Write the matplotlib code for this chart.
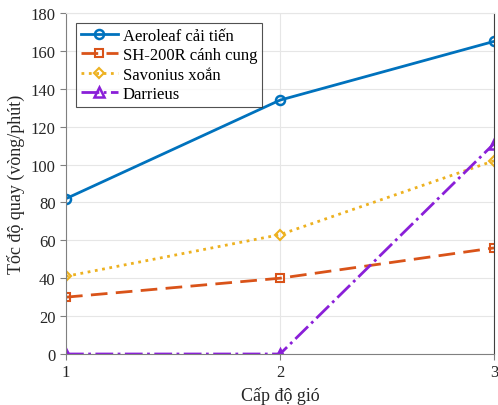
import numpy as np
import matplotlib
matplotlib.use('Agg')
from matplotlib import pyplot as plt

plt.rcParams['font.family'] = ['Liberation Serif', 'DejaVu Serif']

# Du lieu
cap_do = [1, 2, 3]
aeroleaf = [82, 134, 165]
sh200r = [30, 40, 56]
savonius = [41, 63, 102]
darrieus = [0, 0, 111]

fig = plt.figure(figsize=(4.98, 4.06), dpi=100)
ax = fig.add_axes([0.1325, 0.1256, 0.8595, 0.84])

ax.plot(cap_do, aeroleaf, '-o', color='#0072BD', lw=2, ms=6.5, mfc='none', mew=1.8,
        label='Aeroleaf cải tiến')
ax.plot(cap_do, sh200r, '--s', color='#D95319', lw=2, ms=5.5, mfc='none', mew=1.5,
        dashes=(6, 3), label='SH-200R cánh cung')
ax.plot(cap_do, savonius, ':D', color='#EDB120', lw=2, ms=5.5, mfc='none', mew=1.5,
        label='Savonius xoắn')
ax.plot(cap_do, darrieus, '-.^', color='#8A1FD8', lw=2, ms=7, mfc='none', mew=1.8,
        label='Darrieus')

ax.set_xlim(1, 3)
ax.set_ylim(0, 180)
ax.set_xticks([1, 2, 3])
ax.set_yticks(np.arange(0, 181, 20))
ax.grid(True, color='#e6e6e6', lw=0.8)
ax.set_axisbelow(True)
for s in ['left', 'bottom']:
    ax.spines[s].set_color('#808080')
ax.spines['top'].set_color('#e6e6e6')
ax.spines['right'].set_color('#404040')
ax.tick_params(labelsize=12, colors='#808080', labelcolor='#262626', direction='out', length=4)
ax.set_xlabel('Cấp độ gió', fontsize=13, color='#262626')
ax.set_ylabel('Tốc độ quay (vòng/phút)', fontsize=13, color='#262626')

leg = ax.legend(loc='upper left', fontsize=12, frameon=True, fancybox=False,
                edgecolor='#262626', borderpad=0.3, labelspacing=0.2,
                handlelength=2.2, handletextpad=0.3, borderaxespad=0.6)
leg.get_frame().set_linewidth(0.8)

plt.savefig('out.png', dpi=100)
